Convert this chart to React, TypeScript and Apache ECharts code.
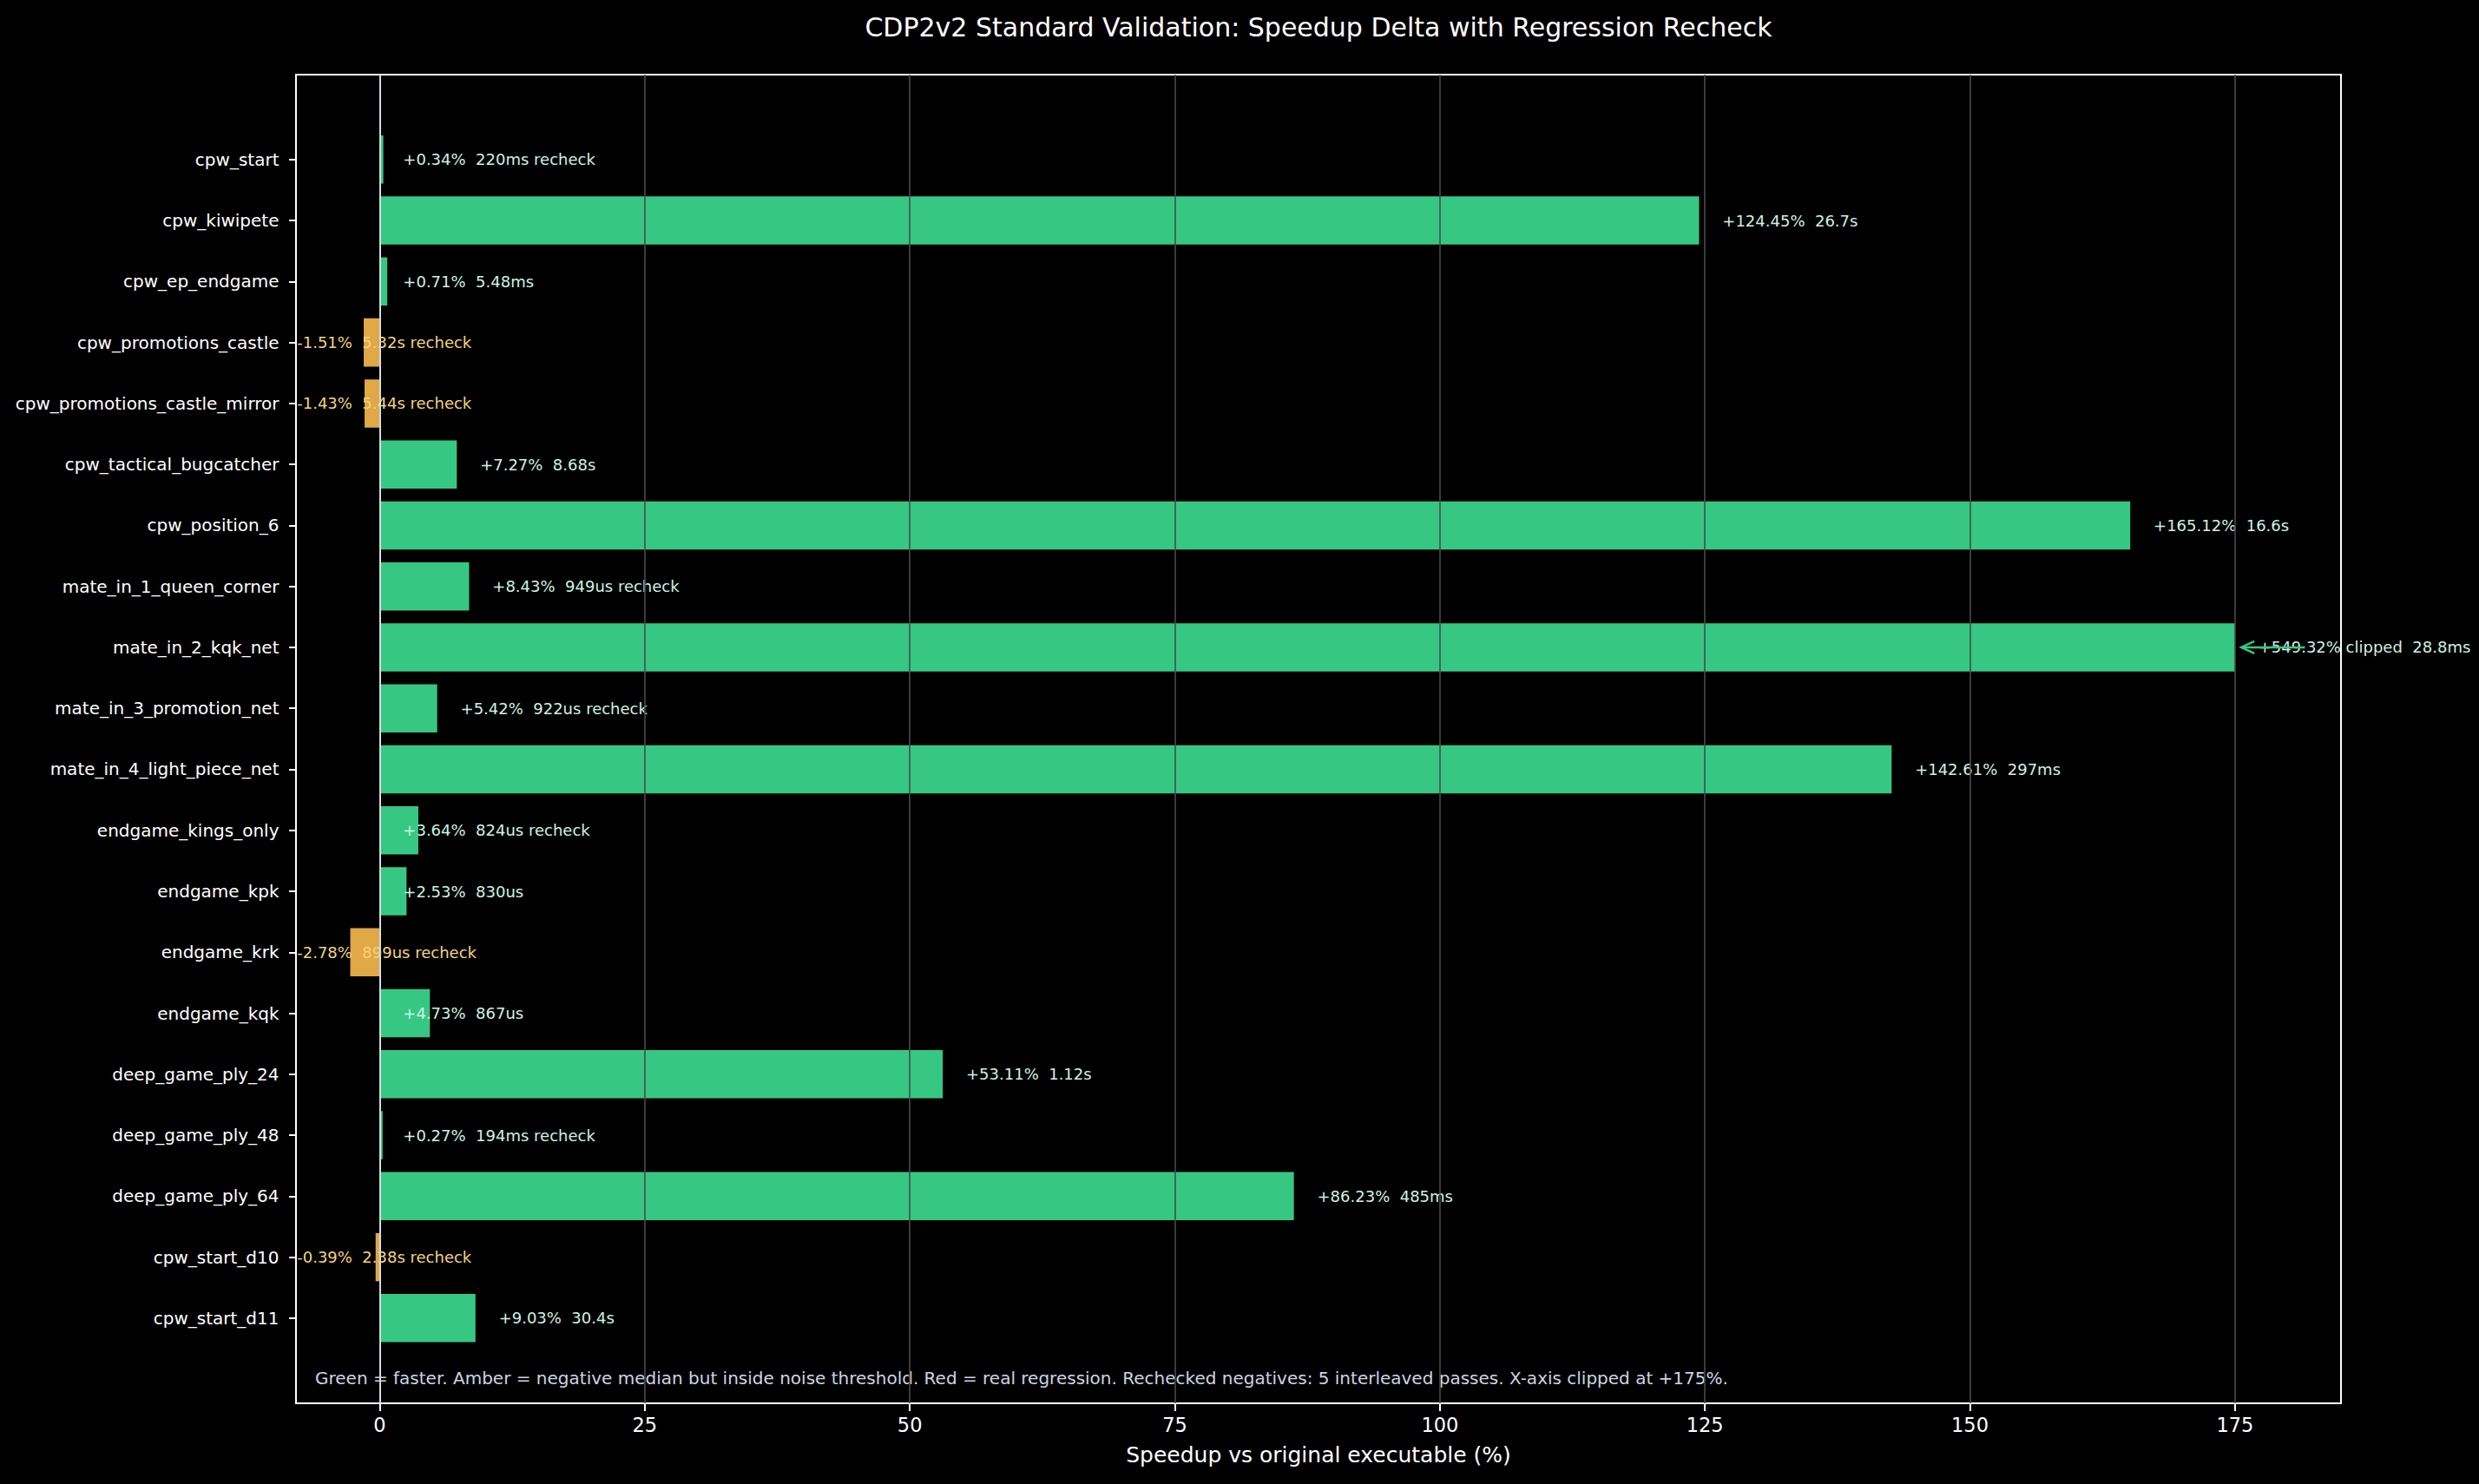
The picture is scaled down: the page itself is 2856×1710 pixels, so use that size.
import React, { useEffect, useRef } from "react";
import * as echarts from "echarts";

const TITLE = "CDP2v2 Standard Validation: Speedup Delta with Regression Recheck";
const X_LABEL = "Speedup vs original executable (%)";
const NOTE =
  "Green = faster. Amber = negative median but inside noise threshold. Red = real regression. Rechecked negatives: 5 interleaved passes. X-axis clipped at +175%.";

const categories = [
  "cpw_start",
  "cpw_kiwipete",
  "cpw_ep_endgame",
  "cpw_promotions_castle",
  "cpw_promotions_castle_mirror",
  "cpw_tactical_bugcatcher",
  "cpw_position_6",
  "mate_in_1_queen_corner",
  "mate_in_2_kqk_net",
  "mate_in_3_promotion_net",
  "mate_in_4_light_piece_net",
  "endgame_kings_only",
  "endgame_kpk",
  "endgame_krk",
  "endgame_kqk",
  "deep_game_ply_24",
  "deep_game_ply_48",
  "deep_game_ply_64",
  "cpw_start_d10",
  "cpw_start_d11",
];

const speedup = [
  0.34, 124.45, 0.71, -1.51, -1.43, 7.27, 165.12, 8.43, 549.32, 5.42, 142.61, 3.64, 2.53, -2.78,
  4.73, 53.11, 0.27, 86.23, -0.39, 9.03,
];

const timing = [
  "220ms", "26.7s", "5.48ms", "5.32s", "5.44s", "8.68s", "16.6s", "949us", "28.8ms", "922us",
  "297ms", "824us", "830us", "899us", "867us", "1.12s", "194ms", "485ms", "2.38s", "30.4s",
];

const recheck = [
  true, false, false, true, true, false, false, true, false, true,
  false, true, false, true, false, false, true, false, true, false,
];

const xTicks = [0, 25, 50, 75, 100, 125, 150, 175];
const X_MIN = -7.9;
const X_MAX = 185;
const CLIP = 175;

const GREEN = "#36c883";
const AMBER = "#e0a846";
const GREEN_TEXT = "#cdf3e0";
const AMBER_TEXT = "#f3d37c";
const FONT = '"DejaVu Sans", "Liberation Sans", sans-serif';

function labelText(v: number, i: number): string {
  const sign = v >= 0 ? "+" : "";
  let s = sign + v.toFixed(2) + "%";
  if (v > CLIP) s += " clipped";
  s += "\u00a0 " + timing[i];
  if (recheck[i]) s += " recheck";
  return s;
}

function labelX(v: number): number {
  if (v < 0) return -7.8;
  if (v > 5) return Math.min(v, CLIP) + 2.2;
  return 2.2;
}

export default function App() {
  const ref = useRef<HTMLDivElement>(null);

  useEffect(() => {
    if (!ref.current) return;
    const chart = echarts.init(ref.current, null, { renderer: "svg" });

    const barData = speedup.map((v) => ({
      value: Math.min(v, CLIP),
      itemStyle: { color: v < 0 ? AMBER : GREEN },
    }));

    const textData = speedup.map((v, i) => [labelX(v), i]);
    const clippedRows = speedup
      .map((v, i) => (v > CLIP ? [CLIP + 6.6, i, CLIP + 0.6] : null))
      .filter((d) => d !== null) as number[][];

    const gridLineData: any[] = xTicks
      .filter((t) => t !== 0)
      .map((t) => ({ xAxis: t, lineStyle: { color: "#4a4a4a", width: 1.6, type: "solid" } }));
    gridLineData.push({ xAxis: 0, lineStyle: { color: "#d3dae6", width: 2, type: "solid" } });

    const option: any = {
      animation: false,
      backgroundColor: "#000000",
      textStyle: { fontFamily: FONT },
      grid: [
        {
          left: 341,
          top: 86,
          width: 2356,
          height: 1531,
          show: true,
          borderColor: "#ffffff",
          borderWidth: 2,
          backgroundColor: "transparent",
        },
        {
          left: 341,
          top: 148.7,
          width: 2356,
          height: 1405.3,
        },
      ],
      xAxis: [
        {
          type: "value",
          gridIndex: 0,
          min: X_MIN,
          max: X_MAX,
          axisLine: { show: false, onZero: false },
          splitLine: { show: false },
          axisTick: {
            show: true,
            customValues: xTicks,
            length: 9,
            lineStyle: { color: "#ffffff", width: 2 },
          },
          axisLabel: {
            show: true,
            customValues: xTicks,
            color: "#ffffff",
            fontSize: 22.5,
            fontFamily: FONT,
            margin: 13,
          },
          name: X_LABEL,
          nameLocation: "middle",
          nameGap: 47,
          nameTextStyle: { color: "#ffffff", fontSize: 25, fontFamily: FONT },
        },
        {
          type: "value",
          gridIndex: 1,
          min: X_MIN,
          max: X_MAX,
          show: false,
          axisLine: { onZero: false },
        },
      ],
      yAxis: [
        {
          type: "value",
          gridIndex: 0,
          min: 0,
          max: 1,
          show: false,
          axisLine: { onZero: false },
        },
        {
          type: "category",
          gridIndex: 1,
          position: "left",
          inverse: true,
          data: categories,
          axisLine: { show: false, onZero: false },
          axisTick: {
            show: true,
            alignWithLabel: true,
            length: 8,
            lineStyle: { color: "#ffffff", width: 2 },
          },
          axisLabel: {
            color: "#ffffff",
            fontSize: 20,
            fontFamily: FONT,
            margin: 19.5,
          },
          splitLine: { show: false },
        },
      ],
      series: [
        {
          type: "line",
          xAxisIndex: 0,
          yAxisIndex: 0,
          data: [[0, 0]],
          showSymbol: false,
          symbolSize: 0,
          lineStyle: { opacity: 0 },
          silent: true,
          z: 1,
          markLine: {
            silent: true,
            symbol: ["none", "none"],
            label: { show: false },
            data: gridLineData,
          },
        },
        {
          type: "bar",
          xAxisIndex: 1,
          yAxisIndex: 1,
          data: barData,
          barWidth: "79%",
          z: 2,
        },
        {
          type: "custom",
          xAxisIndex: 1,
          yAxisIndex: 1,
          clip: false,
          z: 4,
          data: textData,
          renderItem: (params: any, api: any) => {
            const idx = params.dataIndex;
            const p = api.coord([api.value(0), api.value(1)]);
            const v = speedup[idx];
            return {
              type: "text",
              x: p[0],
              y: p[1],
              style: {
                text: labelText(v, idx),
                fill: v < 0 ? AMBER_TEXT : GREEN_TEXT,
                font: '18px "DejaVu Sans", sans-serif',
                textAlign: "left",
                textVerticalAlign: "middle",
              },
            };
          },
        },
        {
          type: "custom",
          xAxisIndex: 1,
          yAxisIndex: 1,
          clip: false,
          z: 5,
          data: clippedRows,
          renderItem: (params: any, api: any) => {
            const tail = api.coord([api.value(0), api.value(1)]);
            const head = api.coord([api.value(2), api.value(1)]);
            return {
              type: "group",
              children: [
                {
                  type: "line",
                  shape: { x1: tail[0], y1: tail[1], x2: head[0], y2: head[1] },
                  style: { stroke: GREEN, lineWidth: 2.5 },
                },
                {
                  type: "polyline",
                  shape: {
                    points: [
                      [head[0] + 15, head[1] - 7],
                      [head[0], head[1]],
                      [head[0] + 15, head[1] + 7],
                    ],
                  },
                  style: { stroke: GREEN, lineWidth: 2.5, fill: "none" },
                },
              ],
            };
          },
        },
      ],
      graphic: [
        {
          type: "text",
          x: 1519,
          y: 31,
          style: {
            text: TITLE,
            fill: "#ffffff",
            font: '30px "DejaVu Sans", sans-serif',
            textAlign: "center",
            textVerticalAlign: "middle",
          },
        },
        {
          type: "text",
          x: 363,
          y: 1588,
          style: {
            text: NOTE,
            fill: "#cbd5e1",
            font: '20px "DejaVu Sans", sans-serif',
            textAlign: "left",
            textVerticalAlign: "middle",
          },
        },
      ],
    };

    chart.setOption(option);
    return () => {
      chart.dispose();
    };
  }, []);

  return (
    <div
      ref={ref}
      style={{
        position: "fixed",
        left: 0,
        top: 0,
        width: 2856,
        height: 1710,
        background: "#000000",
      }}
    />
  );
}
